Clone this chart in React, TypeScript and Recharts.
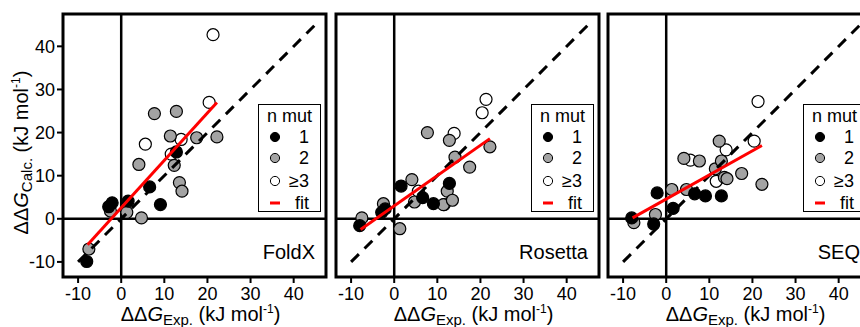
import React from "react";
import { ScatterChart, Scatter, XAxis, YAxis, ReferenceLine, ReferenceArea } from "recharts";

const ticks = [-10, 0, 10, 20, 30, 40];
const domain: [number, number] = [-13.5, 47.5];

// n mut = 1
const blackX = [-8.0, -2.9, -2.1, 1.6, 6.6, 9.1, 12.8];
const blackFoldX = [-9.9, 2.8, 3.7, 4.1, 7.4, 3.3, 15.5];
const blackRosetta = [-1.6, 1.5, 2.3, 7.6, 4.9, 3.5, 8.2];
const blackSeq = [0.2, -1.2, 6.0, 2.4, 5.8, 5.3, 5.3];

// n mut = 2
const grayX = [-7.5, -2.5, 1.3, 4.1, 4.7, 7.7, 11.4, 12.3, 12.8, 13.5, 14.1, 17.5, 22.2];
const grayFoldX = [-7.0, 1.8, 1.5, 12.6, 0.2, 24.4, 19.2, 12.4, 24.9, 8.4, 6.4, 18.8, 19.0];
const grayRosetta = [0.2, 3.5, -2.3, 9.1, 3.9, 20.0, 3.3, 6.4, 18.2, 4.3, 14.3, 12.0, 16.7];
const graySeq = [-0.9, 1.0, 6.8, 14.0, 6.8, 13.4, 11.6, 18.0, 13.4, 9.6, 9.3, 10.5, 8.0];

// n mut >= 3
const whiteX = [5.6, 11.6, 13.9, 20.4, 21.3];
const whiteFoldX = [17.3, 15.0, 18.4, 27.0, 42.7];
const whiteRosetta = [6.4, 3.3, 19.8, 24.6, 27.7];
const whiteSeq = [13.6, 8.7, 16.0, 18.0, 27.2];

// linear fit end points
const fitX = [-7.8, 22.2];
const fitFoldX = [-6.0, 27.0];
const fitRosetta = [-2.5, 18.6];
const fitSeq = [0.2, 17.0];

const identity = [-10, 45];

const FONT = "'Liberation Sans', Arial, Helvetica, sans-serif";
const GRAY = "#a3a3a3";
const RED = "#ff0000";
const PLOT = 263;
const TOP = 14;
const H = 327;

const pts = (xs: number[], ys: number[]) => xs.map((x, i) => ({ x, y: ys[i] }));

const dot = (fill: string) => (p: any) => (
  <circle cx={p.cx} cy={p.cy} r={6} fill={fill} stroke="#000" strokeWidth={1.2} />
);
const none = () => <g />;

function Title({ sub }: { sub: string }) {
  return (
    <>
      <tspan>ΔΔ</tspan>
      <tspan fontStyle="italic">G</tspan>
      <tspan fontSize={15} dy={4}>{sub}</tspan>
      <tspan dy={-4}> (kJ mol</tspan>
      <tspan fontSize={12} dy={-8}>-1</tspan>
      <tspan dy={8}>)</tspan>
    </>
  );
}

function XTitle(props: any) {
  const vb = props.viewBox || { x: 0, y: 0, width: 0 };
  const cx = vb.x + vb.width / 2 + 6;
  return (
    <text x={cx} y={vb.y + 44} textAnchor="middle" fontFamily={FONT} fontSize={20} fill="#000">
      <Title sub="Exp." />
    </text>
  );
}

function YTitle() {
  const x = 28;
  const y = TOP + PLOT / 2 + 7;
  return (
    <text x={x} y={y} transform={`rotate(-90, ${x}, ${y})`} textAnchor="middle" fontFamily={FONT} fontSize={20} fill="#000">
      <Title sub="Calc." />
    </text>
  );
}

function Key({ left }: { left: number }) {
  const lbl = { fontFamily: FONT, fontSize: 18, fill: "#000", textAnchor: "end" as const };
  return (
    <g transform={`translate(${left}, 104)`}>
      <rect x={0.5} y={0.5} width={62} height={107} fill="#fff" stroke="#000" strokeWidth={1} />
      <text x={31.5} y={18} fontFamily={FONT} fontSize={18} textAnchor="middle">n mut</text>
      <circle cx={17} cy={33} r={4.6} fill="#000" stroke="#000" />
      <text x={51} y={39} {...lbl}>1</text>
      <circle cx={17} cy={54} r={4.6} fill={GRAY} stroke="#000" />
      <text x={51} y={60} {...lbl}>2</text>
      <circle cx={17} cy={77} r={4.6} fill="#fff" stroke="#000" />
      <text x={51} y={83} {...lbl}>≥3</text>
      <rect x={12} y={97.5} width={10} height={3} fill={RED} />
      <text x={51} y={105} {...lbl}>fit</text>
    </g>
  );
}

function Panel(props: { plotLeft: number; showY: boolean; black: number[]; gray: number[]; white: number[]; fit: number[] }) {
  const { plotLeft, showY } = props;
  const yW = showY ? 63 : 10;
  const tickFont = { fill: "#000", fontSize: 18, fontFamily: FONT };
  return (
    <div style={{ position: "absolute", left: plotLeft - yW, top: 0 }}>
      <ScatterChart width={yW + PLOT + 3} height={H} margin={{ top: TOP, right: 3, bottom: 0, left: 0 }}>
        <XAxis
          type="number" dataKey="x" domain={domain} ticks={ticks} allowDataOverflow
          axisLine={false} stroke="#000" tickSize={6} tickMargin={4}
          tickLine={{ stroke: "#000", strokeWidth: 2 }}
          tick={tickFont}
          height={H - TOP - PLOT} label={<XTitle />}
        />
        <YAxis
          type="number" dataKey="y" domain={domain} ticks={ticks} allowDataOverflow
          axisLine={false} stroke="#000" width={yW} tickSize={6} tickMargin={2}
          tickLine={{ stroke: "#000", strokeWidth: 2 }}
          tick={showY ? tickFont : false}
          label={showY ? <YTitle /> : undefined}
        />
        <ReferenceArea x1={domain[0]} x2={domain[1]} y1={domain[0]} y2={domain[1]} fill="none" fillOpacity={0} stroke="#000" strokeWidth={3} />
        <ReferenceLine x={0} stroke="#000" strokeWidth={2.5} />
        <ReferenceLine y={0} stroke="#000" strokeWidth={2.5} />
        <Scatter data={pts(whiteX, props.white)} shape={dot("#fff")} isAnimationActive={false} />
        <Scatter data={pts(grayX, props.gray)} shape={dot(GRAY)} isAnimationActive={false} />
        <Scatter data={pts(blackX, props.black)} shape={dot("#000")} isAnimationActive={false} />
        <Scatter
          data={pts(identity, identity)} shape={none} isAnimationActive={false}
          line={{ stroke: "#000", strokeWidth: 3, strokeDasharray: "11 8" }}
        />
        <Scatter
          data={pts(fitX, props.fit)} shape={none} isAnimationActive={false}
          line={{ stroke: RED, strokeWidth: 3 }}
        />
      </ScatterChart>
    </div>
  );
}

const panelLeft = [63, 336, 608];
const methods = ["FoldX", "Rosetta", "SEQ"];

export default function App() {
  return (
    <div style={{ position: "absolute", left: 0, top: 0, width: 860, height: H, overflow: "hidden", background: "#fff" }}>
      <Panel plotLeft={panelLeft[0]} showY black={blackFoldX} gray={grayFoldX} white={whiteFoldX} fit={fitFoldX} />
      <Panel plotLeft={panelLeft[1]} showY={false} black={blackRosetta} gray={grayRosetta} white={whiteRosetta} fit={fitRosetta} />
      <Panel plotLeft={panelLeft[2]} showY={false} black={blackSeq} gray={graySeq} white={whiteSeq} fit={fitSeq} />
      <svg width={860} height={H} style={{ position: "absolute", left: 0, top: 0, pointerEvents: "none" }}>
        {panelLeft.map((l, i) => (
          <g key={methods[i]}>
            <Key left={l + 195} />
            <text x={l + PLOT - 11} y={259} textAnchor="end" fontFamily={FONT} fontSize={20} fill="#000">
              {methods[i]}
            </text>
          </g>
        ))}
      </svg>
    </div>
  );
}
